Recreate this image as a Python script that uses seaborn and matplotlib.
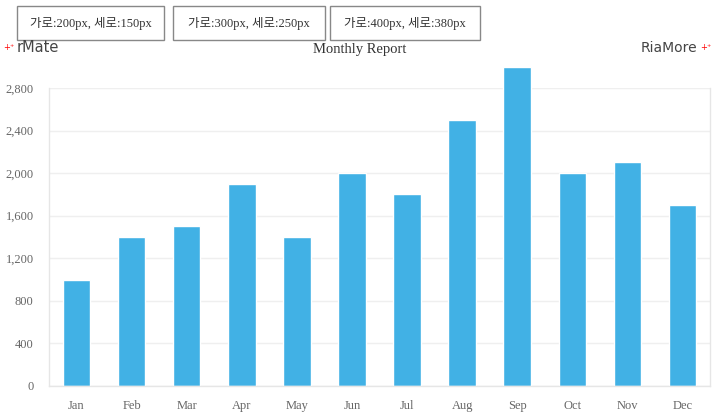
import pandas as pd
import matplotlib.pyplot as plt
import seaborn as sns

# chart values
months = ['Jan', 'Feb', 'Mar', 'Apr', 'May', 'Jun', 'Jul', 'Aug', 'Sep', 'Oct', 'Nov', 'Dec']
sales = [1000, 1400, 1500, 1900, 1400, 2000, 1800, 2500, 3000, 2000, 2100, 1700]
y_ticks = [0, 400, 800, 1200, 1600, 2000, 2400, 2800]
buttons = ['가로:200px, 세로:150px', '가로:300px, 세로:250px', '가로:400px, 세로:380px']

data = pd.DataFrame({'month': months, 'sales': sales})

sns.set_theme(style='white')
plt.rcParams['font.family'] = ['Liberation Serif', 'Noto Sans CJK KR', 'DejaVu Sans']

fig = plt.figure(figsize=(7.2, 4.2), dpi=100)
ax = fig.add_axes([49 / 720, 1 - 386 / 420, 661 / 720, 298 / 420])

sns.barplot(data=data, x='month', y='sales', color='#41b1e5', saturation=1,
            width=0.5, ax=ax)
for p in ax.patches:
    p.set_clip_on(False)

ax.set_ylim(0, 2800)
ax.set_yticks(y_ticks)
ax.set_yticklabels([f'{v:,}' for v in y_ticks])
ax.set_xlim(-0.5, len(months) - 0.5)
ax.set_xlabel('')
ax.set_ylabel('')
ax.yaxis.grid(True, color='#efefef', linewidth=1)
ax.set_axisbelow(True)
for side in ['left', 'right', 'bottom']:
    ax.spines[side].set_color('#e6e6e6')
    ax.spines[side].set_linewidth(1)
ax.spines['top'].set_visible(False)
ax.tick_params(axis='both', colors='#666666', labelsize=9, length=0)
ax.tick_params(axis='y', pad=11)
ax.tick_params(axis='x', pad=10)

# title and logos
fig.text(360 / 720, 1 - 50 / 420, 'Monthly Report', ha='center', va='center',
         fontsize=10.5, color='#333333')
fig.text(3 / 720, 1 - 48 / 420, '+⁺', ha='left', va='center', fontsize=6,
         color='red', family=['DejaVu Sans'])
fig.text(17 / 720, 1 - 48 / 420, 'rMate', ha='left', va='center',
         fontsize=10.5, color='#444444', family=['DejaVu Sans'])
fig.text(697 / 720, 1 - 48 / 420, 'RiaMore', ha='right', va='center',
         fontsize=10, color='#444444', family=['DejaVu Sans'])
fig.text(700 / 720, 1 - 48 / 420, '+⁺', ha='left', va='center', fontsize=6,
         color='red', family=['DejaVu Sans'])

# buttons
btn_left = [17, 173, 330]
btn_right = [164, 325, 480]
for label, l, r in zip(buttons, btn_left, btn_right):
    fig.patches.append(plt.Rectangle((l / 720, 1 - 40 / 420), (r - l) / 720, 34 / 420,
                                     transform=fig.transFigure, facecolor='white',
                                     edgecolor='#888888', linewidth=1))
    fig.text((l + r) / 2 / 720, 1 - 23 / 420, label, ha='center', va='center',
             fontsize=9, color='#333333')

fig.savefig('out.png', dpi=100)
